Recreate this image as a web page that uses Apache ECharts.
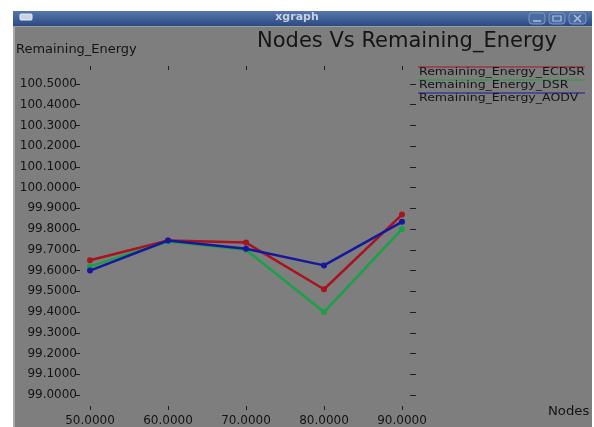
<!DOCTYPE html>
<html>
<head>
<meta charset="utf-8">
<script src="https://cdn.jsdelivr.net/npm/echarts@6/dist/echarts.min.js"></script>
<style>
  html, body { margin: 0; padding: 0; background: #ffffff; }
  #chart { width: 594px; height: 427px; }
</style>
</head>
<body>
<div id="chart"></div>
<script>
// data
const nodes = [50, 60, 70, 80, 90];
const seriesNames = ['Remaining_Energy_ECDSR', 'Remaining_Energy_DSR', 'Remaining_Energy_AODV'];
const ecdsr = [99.65, 99.745, 99.735, 99.51, 99.87];
const dsr = [99.62, 99.74, 99.70, 99.40, 99.80];
const aodv = [99.60, 99.745, 99.705, 99.625, 99.835];
const yTicks = [99.0, 99.1, 99.2, 99.3, 99.4, 99.5, 99.6, 99.7, 99.8, 99.9, 100.0, 100.1, 100.2, 100.3, 100.4, 100.5];

const colors = ['#a8141d', '#19a148', '#17179e'];
const bg = '#7e7e7e';
const ink = '#141414';
const font = 'DejaVu Sans';

const chart = echarts.init(document.getElementById('chart'));

const values = [ecdsr, dsr, aodv];
const series = seriesNames.map((name, i) => ({
  name: name,
  type: 'line',
  data: nodes.map((n, j) => [n, values[i][j]]),
  symbol: 'circle',
  symbolSize: 6,
  color: colors[i],
  lineStyle: { width: 2.5, color: colors[i] },
  itemStyle: { color: colors[i] },
  z: 3 + i
}));

// legend drawn the xgraph way: a line over each name
const legendItems = [];
seriesNames.forEach((name, i) => {
  const y = 67 + i * 13;
  legendItems.push({
    type: 'line',
    shape: { x1: 418, y1: y, x2: 585, y2: y },
    style: { stroke: colors[i], lineWidth: 1.2 },
    z: 5
  });
  legendItems.push({
    type: 'text',
    x: 419, y: y,
    scaleX: 1.14,
    style: { text: name, fill: ink, font: '11px "' + font + '"', verticalAlign: 'top' },
    z: 6
  });
});

const tickStyle = { color: '#1e1e1e', width: 1 };

chart.setOption({
  animation: false,
  backgroundColor: 'transparent',
  grid: { left: 80, right: 184, top: 70, bottom: 18, containLabel: false },
  xAxis: [
    {
      type: 'value', position: 'bottom',
      min: 48.718, max: 91.026,
      axisLine: { show: false },
      splitLine: { show: false },
      axisTick: { show: true, customValues: nodes, length: 4, lineStyle: tickStyle },
      axisLabel: {
        customValues: nodes, margin: 9,
        formatter: v => v.toFixed(4),
        color: ink, fontFamily: font, fontSize: 12
      }
    },
    {
      type: 'value', position: 'top',
      min: 48.718, max: 91.026,
      axisLine: { show: false },
      splitLine: { show: false },
      axisTick: { show: true, customValues: nodes, length: 4, lineStyle: tickStyle },
      axisLabel: { show: false }
    }
  ],
  yAxis: [
    {
      type: 'value', position: 'left',
      min: 98.947, max: 100.567,
      axisLine: { show: false },
      splitLine: { show: false },
      axisTick: { show: true, customValues: yTicks, length: 5, lineStyle: tickStyle },
      axisLabel: {
        customValues: yTicks, margin: 3,
        formatter: v => v.toFixed(4),
        color: ink, fontFamily: font, fontSize: 12
      }
    },
    {
      type: 'value', position: 'right',
      min: 98.947, max: 100.567,
      axisLine: { show: false },
      splitLine: { show: false },
      axisTick: { show: true, customValues: yTicks, length: 6, lineStyle: tickStyle },
      axisLabel: { show: false }
    }
  ],
  series: series,
  graphic: [
    // window body
    { type: 'rect', shape: { x: 13, y: 11, width: 579, height: 416 }, style: { fill: bg }, z: -10 },
    { type: 'rect', shape: { x: 13, y: 26, width: 2, height: 401 }, style: { fill: '#a8a8a8' }, z: -9 },
    { type: 'rect', shape: { x: 13, y: 26, width: 579, height: 1 }, style: { fill: '#9c9c9c' }, z: -9 },
    // title bar
    {
      type: 'rect', shape: { x: 13, y: 11, width: 579, height: 15 },
      style: {
        fill: new echarts.graphic.LinearGradient(0, 0, 0, 1, [
          { offset: 0, color: '#5676ad' },
          { offset: 1, color: '#2c4a82' }
        ])
      },
      z: -8
    },
    { type: 'rect', shape: { x: 20, y: 14, width: 12, height: 6, r: 1 }, style: { fill: '#c9d3e6', stroke: '#e8eef8', lineWidth: 1 }, z: -7 },
    { type: 'text', left: 'center', top: 12, style: { text: 'xgraph', fill: '#c9d1df', font: 'bold 11px "' + font + '"' }, z: -7 },
    { type: 'rect', shape: { x: 529, y: 13, width: 16, height: 11, r: 3 }, style: { fill: '#4a6aa2', stroke: '#7e98c4', lineWidth: 1 }, z: -7 },
    { type: 'rect', shape: { x: 549, y: 13, width: 16, height: 11, r: 3 }, style: { fill: '#4a6aa2', stroke: '#7e98c4', lineWidth: 1 }, z: -7 },
    { type: 'rect', shape: { x: 569, y: 13, width: 17, height: 11, r: 3 }, style: { fill: '#4a6aa2', stroke: '#7e98c4', lineWidth: 1 }, z: -7 },
    { type: 'line', shape: { x1: 533, y1: 21, x2: 541, y2: 21 }, style: { stroke: '#aebfdc', lineWidth: 1.5 }, z: -6 },
    { type: 'rect', shape: { x: 553, y: 16, width: 8, height: 5 }, style: { fill: 'none', stroke: '#aebfdc', lineWidth: 1.2 }, z: -6 },
    { type: 'line', shape: { x1: 574, y1: 15, x2: 581, y2: 22 }, style: { stroke: '#aebfdc', lineWidth: 1.5 }, z: -6 },
    { type: 'line', shape: { x1: 581, y1: 15, x2: 574, y2: 22 }, style: { stroke: '#aebfdc', lineWidth: 1.5 }, z: -6 },
    // chart texts
    { type: 'text', x: 257, y: 31, style: { text: 'Nodes Vs Remaining_Energy', fill: ink, font: '21px "' + font + '"', verticalAlign: 'top' }, z: 6 },
    { type: 'text', x: 16, y: 44, scaleX: 1.08, style: { text: 'Remaining_Energy', fill: ink, font: '12px "' + font + '"', verticalAlign: 'top' }, z: 6 },
    { type: 'text', x: 548, y: 406, scaleX: 1.1, style: { text: 'Nodes', fill: ink, font: '12px "' + font + '"', verticalAlign: 'top' }, z: 6 }
  ].concat(legendItems)
});
</script>
</body>
</html>
